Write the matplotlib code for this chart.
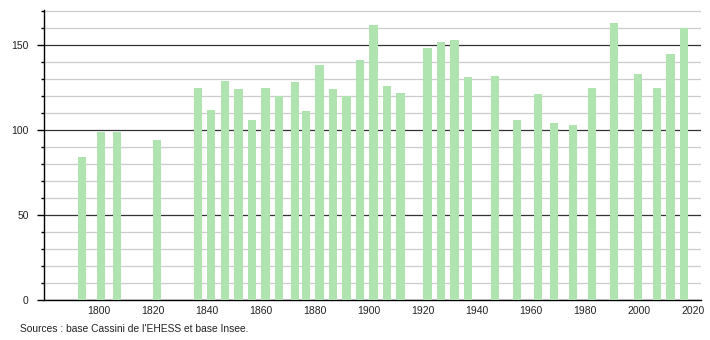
import matplotlib
matplotlib.use("Agg")
import matplotlib.pyplot as plt
from matplotlib.ticker import MultipleLocator

plt.rcParams['font.family'] = ['Liberation Sans', 'DejaVu Sans']

years = [1793, 1800, 1806, 1821, 1836, 1841, 1846, 1851, 1856, 1861, 1866,
         1872, 1876, 1881, 1886, 1891, 1896, 1901, 1906, 1911, 1921, 1926,
         1931, 1936, 1946, 1954, 1962, 1968, 1975, 1982, 1990, 1999, 2006,
         2011, 2016]
population = [84, 99, 99, 94, 125, 112, 129, 124, 106, 125, 120,
              128, 111, 138, 124, 120, 141, 162, 126, 122, 148, 152,
              153, 131, 132, 106, 121, 104, 103, 125, 163, 133, 125,
              145, 160]
x_ticks = [1800, 1820, 1840, 1860, 1880, 1900, 1920, 1940, 1960, 1980, 2000, 2020]
y_ticks = [0, 50, 100, 150]
source_text = "Sources : base Cassini de l'EHESS et base Insee."

fig = plt.figure(figsize=(7.1, 3.4), dpi=100)
ax = fig.add_axes([0.062, 0.1176, 0.925, 0.853])

ax.bar([y + 0.6 for y in years], population, width=3.0, color='#afe3af',
       zorder=3, linewidth=0)

ax.set_xlim(1779.6, 2022.8)
ax.set_ylim(0, 170.6)

ax.yaxis.set_major_locator(MultipleLocator(50))
ax.yaxis.set_minor_locator(MultipleLocator(10))
ax.set_yticks(y_ticks)
ax.set_xticks(x_ticks)
ax.set_xticklabels([str(t) for t in x_ticks])

ax.grid(axis='y', which='minor', color='#cccccc', linewidth=0.9, zorder=1)
ax.grid(axis='y', which='major', color='#333333', linewidth=0.9, zorder=2)
ax.grid(axis='x', visible=False)

for s in ['top', 'right']:
    ax.spines[s].set_visible(False)
ax.spines['left'].set_color('black')
ax.spines['bottom'].set_color('black')
ax.spines['left'].set_linewidth(1.0)
ax.spines['bottom'].set_linewidth(1.0)

ax.tick_params(axis='x', length=0, labelsize=7.5, pad=4, colors='#222222')
ax.tick_params(axis='y', which='major', length=5, width=1, labelsize=7.5,
               pad=6, colors='black', labelcolor='#222222')
ax.tick_params(axis='y', which='minor', length=2.5, width=1, colors='black')

fig.text(0.028, 0.032, source_text, fontsize=7.4, color='#222222', ha='left', va='center')

fig.savefig("out.png", dpi=100)
